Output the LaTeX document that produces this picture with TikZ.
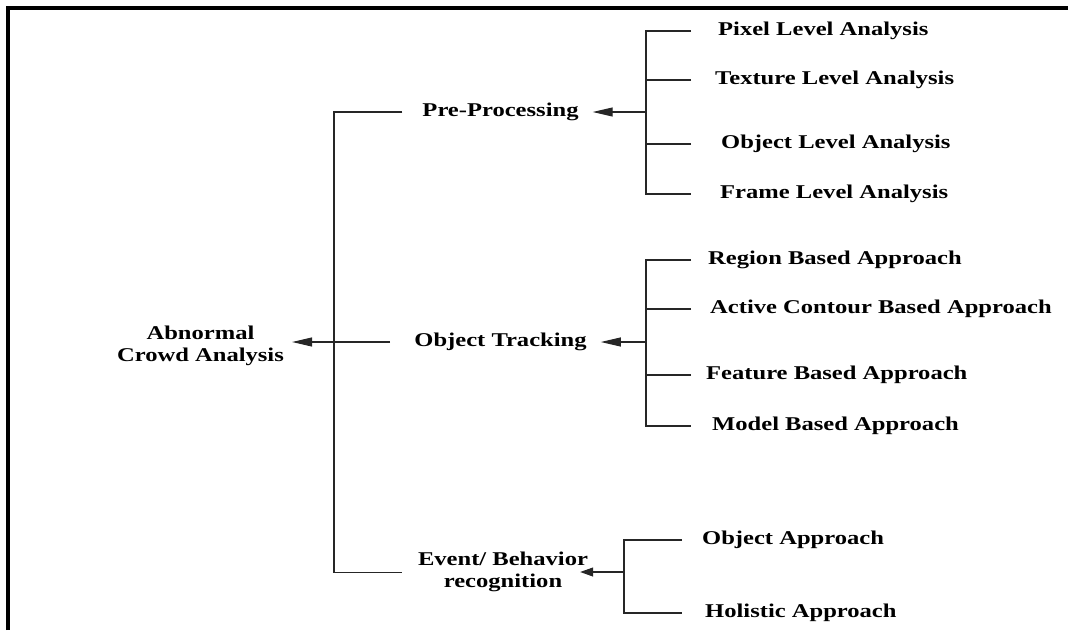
\documentclass[tikz,border=0pt]{standalone}
\usepackage{fontspec}
\setmainfont[FakeStretch=1.26]{Liberation Serif}
\usetikzlibrary{arrows.meta,calc}
\begin{document}
\begin{tikzpicture}[x=1pt,y=-1pt,
  lbl/.style={font=\fontsize{19.5}{22}\selectfont\bfseries, inner sep=0pt},
  one/.style={lbl, text height=13.5pt, text depth=4pt},
  leaf/.style={one, anchor=west},
  two/.style={lbl, align=center},
  ln/.style={line width=1.1pt, draw=black!85},
  arr/.style={ln, -{Triangle[length=20pt,width=9pt]}},
  arrs/.style={ln, -{Triangle[length=13pt,width=9pt]}}]
\useasboundingbox (0,0) rectangle (1068,630);
% frame
\draw[line width=3.2pt] (8,630) -- (8,8) -- (1068,8);
% main nodes
\node[two] (root) at (200.5,345.5) {Abnormal\\Crowd Analysis};
\node[one] (pre) at (500.5,112) {Pre-Processing};
\node[one] (ot) at (500.5,342) {Object Tracking};
\node[two] (ev) at (503,572.3) {Event/ Behavior\\recognition};
% leaves
\node[leaf] (pix) at (718,31) {Pixel Level Analysis};
\node[leaf] (tex) at (715,80) {Texture Level Analysis};
\node[leaf] (objl) at (721,144) {Object Level Analysis};
\node[leaf] (frm) at (720,194) {Frame Level Analysis};
\node[leaf] (reg) at (708,260) {Region Based Approach};
\node[leaf] (act) at (710,309) {Active Contour Based Approach};
\node[leaf] (fea) at (706,375) {Feature Based Approach};
\node[leaf] (mod) at (712,426) {Model Based Approach};
\node[leaf] (oap) at (702,540) {Object Approach};
\node[leaf] (hol) at (705,613) {Holistic Approach};
% helper coordinates
\coordinate (tk) at (334,0);
\coordinate (ex1) at (691,0);
\coordinate (ex2) at (682,0);
\coordinate (pj) at (646,112);
\coordinate (oj) at (646,342);
\coordinate (ej) at (624,572);
% trunk
\draw[ln] ($(pre.west)+(-20,0)$) -| (tk |- ev) -- ($(ev.west)+(-16,0)$);
\draw[arr] ($(ot.west)+(-24,0)$) -- ($(ot.west -| root.east)+(8,0)$);
% pre-processing bracket
\draw[ln] (pix.west -| ex1) -| (pj) |- (frm.west -| ex1);
\draw[ln] (tex.west -| ex1) -- (tex.west -| pj);
\draw[ln] (objl.west -| ex1) -- (objl.west -| pj);
\draw[arr] (pj) -- ($(pre.east)+(14,0)$);
% object tracking bracket
\draw[ln] (reg.west -| ex1) -| (oj) |- (mod.west -| ex1);
\draw[ln] (act.west -| ex1) -- (act.west -| oj);
\draw[ln] (fea.west -| ex1) -- (fea.west -| oj);
\draw[arr] (oj) -- ($(ot.east)+(14,0)$);
% event bracket
\draw[ln] (oap.west -| ex2) -| (ej) |- (hol.west -| ex2);
\draw[arrs] (ej) -- ($(ej -| ev.east)+(-8,0)$);
\end{tikzpicture}
\end{document}
